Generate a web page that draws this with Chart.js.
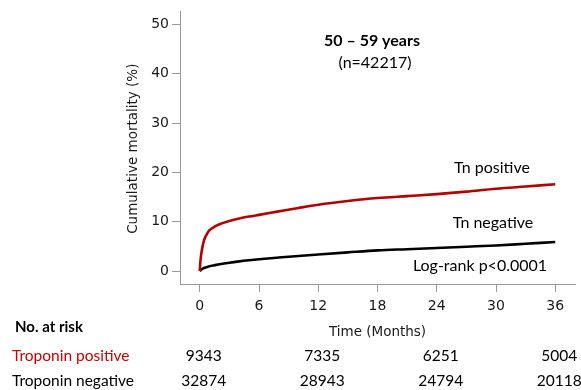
<!DOCTYPE html>
<html>
<head>
<meta charset="utf-8">
<script src="https://cdn.jsdelivr.net/npm/chart.js@4/dist/chart.umd.min.js"></script>
<style>
  html, body { margin: 0; padding: 0; background: #fff; }
  #wrap { width: 581px; height: 390px; position: relative; }
</style>
</head>
<body>
<div id="wrap"><canvas id="canvas"></canvas></div>
<script>
// follow-up time (months) and cumulative mortality (%)
const months = [0, 0.05, 0.1, 0.2, 0.35, 0.5, 0.75, 1, 1.5, 2, 3, 4, 5, 6, 8, 10, 12, 15, 18, 21, 24, 27, 30, 33, 36];
const tnPositive = [0, 1.6, 2.7, 4.1, 5.6, 6.6, 7.6, 8.3, 9.0, 9.5, 10.15, 10.65, 11.05, 11.4, 12.1, 12.8, 13.45, 14.2, 14.8, 15.2, 15.6, 16.1, 16.7, 17.15, 17.6];
const tnNegative = [0, 0.12, 0.22, 0.38, 0.55, 0.68, 0.85, 1.0, 1.2, 1.4, 1.72, 1.98, 2.2, 2.4, 2.75, 3.08, 3.38, 3.8, 4.2, 4.45, 4.7, 4.95, 5.2, 5.55, 5.9];

const xTicks = [0, 6, 12, 18, 24, 30, 36];
const yTicks = [0, 10, 20, 30, 40, 50];

// number at risk table
const riskMonths = [0, 12, 24, 36];
const riskPositive = [9343, 7335, 6251, 5004];
const riskNegative = [32874, 28943, 24794, 20118];

const RED_LINE = '#b30000';
const RED_TEXT = '#cc0000';
const AXIS = '#9a9a9a';
const TICK_FONT = 'DejaVu Sans';
const NOTE_FONT = 'Lato';

const pts = (ys) => months.map((m, i) => ({x: m, y: ys[i]}));

const textPlugin = {
  id: 'kmText',
  afterDraw(chart) {
    const ctx = chart.ctx;
    const x = chart.scales.x, y = chart.scales.y;
    ctx.save();
    ctx.textBaseline = 'middle';

    // y axis title
    ctx.save();
    ctx.translate(133, (y.getPixelForValue(yTicks[0]) + y.getPixelForValue(yTicks[yTicks.length - 1])) / 2 + 1);
    ctx.rotate(-Math.PI / 2);
    ctx.textAlign = 'center';
    ctx.fillStyle = '#1a1a1a';
    ctx.font = '13.5px "' + TICK_FONT + '"';
    ctx.fillText('Cumulative mortality (%)', 0, 0);
    ctx.restore();

    // x axis title
    ctx.textAlign = 'center';
    ctx.fillStyle = '#1a1a1a';
    ctx.font = '13.5px "' + TICK_FONT + '"';
    ctx.fillText('Time (Months)', (x.getPixelForValue(0) + x.getPixelForValue(36)) / 2, 332);

    // panel heading
    ctx.fillStyle = '#000';
    ctx.font = 'bold 16px "' + NOTE_FONT + '"';
    ctx.fillText('50 \u2013 59 years', 372, 41);
    ctx.font = '16px "' + NOTE_FONT + '"';
    ctx.fillText('(n=42217)', 375, 63);

    // curve labels
    ctx.font = '16px "' + NOTE_FONT + '"';
    ctx.fillText('Tn positive', 492, 168);
    ctx.fillText('Tn negative', 493, 223);
    ctx.fillText('Log-rank p<0.0001', 480, 266);

    // at-risk table
    ctx.textAlign = 'left';
    ctx.font = 'bold 15px "' + NOTE_FONT + '"';
    ctx.fillText('No. at risk', 15, 327);
    ctx.font = '15.5px "' + NOTE_FONT + '"';
    ctx.fillStyle = RED_TEXT;
    ctx.fillText('Troponin positive', 12, 356);
    ctx.fillStyle = '#000';
    ctx.fillText('Troponin negative', 12, 381);
    ctx.textAlign = 'center';
    riskMonths.forEach((m, i) => {
      const px = x.getPixelForValue(m) + 4;
      ctx.fillText(String(riskPositive[i]), px, 356);
      ctx.fillText(String(riskNegative[i]), px, 381);
    });
    ctx.restore();
  }
};

new Chart(document.getElementById('canvas'), {
  type: 'line',
  data: {
    datasets: [
      {
        label: 'Tn positive',
        data: pts(tnPositive),
        borderColor: RED_LINE,
        borderWidth: 2.6,
        pointRadius: 0,
        cubicInterpolationMode: 'monotone'
      },
      {
        label: 'Tn negative',
        data: pts(tnNegative),
        borderColor: '#000',
        borderWidth: 2.6,
        pointRadius: 0,
        cubicInterpolationMode: 'monotone'
      }
    ]
  },
  options: {
    responsive: true,
    maintainAspectRatio: false,
    animation: false,
    events: [],
    layout: {padding: {top: 9, right: 6, left: 0, bottom: 0}},
    plugins: {legend: {display: false}, tooltip: {enabled: false}},
    scales: {
      x: {
        type: 'linear',
        min: -2,
        max: 38,
        afterBuildTicks: (s) => { s.ticks = xTicks.map(v => ({value: v})); },
        afterFit: (s) => { s.height = 106; },
        grid: {drawOnChartArea: false, drawTicks: true, tickLength: 8, color: AXIS, lineWidth: 1},
        border: {display: true, color: AXIS, width: 1},
        ticks: {color: '#1a1a1a', padding: 6, maxRotation: 0, font: {family: TICK_FONT, size: 14}}
      },
      y: {
        min: -2.6,
        max: 52.6,
        afterBuildTicks: (s) => { s.ticks = yTicks.map(v => ({value: v})); },
        afterFit: (s) => { s.width = 180; },
        grid: {drawOnChartArea: false, drawTicks: true, tickLength: 8, color: AXIS, lineWidth: 1},
        border: {display: true, color: AXIS, width: 1},
        ticks: {color: '#1a1a1a', padding: 3, font: {family: TICK_FONT, size: 14}}
      }
    }
  },
  plugins: [textPlugin]
});
</script>
</body>
</html>
